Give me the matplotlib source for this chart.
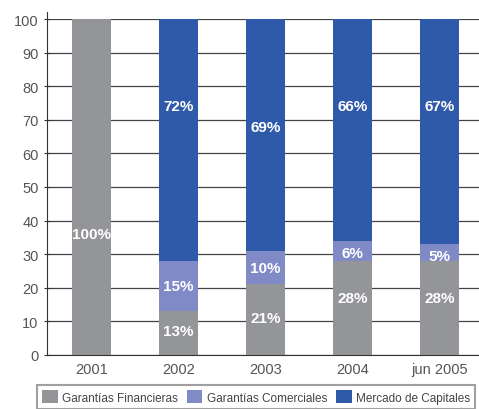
import matplotlib.pyplot as plt
import numpy as np

plt.rcParams.update({"font.family": ["Liberation Sans", "DejaVu Sans"]})

# data
years = ["2001", "2002", "2003", "2004", "jun 2005"]
financieras = [100, 13, 21, 28, 28]
comerciales = [0, 15, 10, 6, 5]
capitales = [0, 72, 69, 66, 67]

labels = ["Garantías Financieras", "Garantías Comerciales", "Mercado de Capitales"]
colors = ["#939598", "#7f8ac6", "#2f5aaa"]

# where the percentage labels sit (value units)
label_pos = [
    [36, 7, 11, 17, 17],
    [None, 20.5, 26, 30.5, 29.5],
    [None, 74, 68, 74, 74],
]

fig = plt.figure(figsize=(4.79, 4.10), dpi=100)
ax = fig.add_axes([47 / 479, 54 / 410, 1 - 47 / 479, 336 / 410])

x = np.arange(len(years))
series = [financieras, comerciales, capitales]
bottom = np.zeros(len(years))
for s, c, lab, pos in zip(series, colors, labels, label_pos):
    ax.bar(x, s, 0.45, bottom=bottom, color=c, label=lab, zorder=2)
    for i, v in enumerate(s):
        if v > 0 and pos[i] is not None:
            ax.text(x[i], pos[i], f"{v}%", ha="center", va="center",
                    color="white", fontsize=11, fontweight="bold", zorder=3)
    bottom += s

ax.set_xlim(-0.51, 4.45)
ax.set_ylim(0, 100)
ax.set_yticks(range(0, 101, 10))
ax.set_xticks(x)
ax.set_xticklabels(years)
ax.grid(axis="y", color="#444444", linewidth=0.9, zorder=0)
ax.set_axisbelow(True)
for sp in ["top", "right"]:
    ax.spines[sp].set_visible(False)
ax.spines["left"].set_color("#333333")
ax.spines["bottom"].set_color("#333333")
ax.spines["left"].set_bounds(0, 102)
ax.tick_params(axis="y", colors="#333333", labelcolor="#555555", labelsize=10.5, length=5, direction="inout")
ax.tick_params(axis="x", length=0, labelcolor="#555555", labelsize=10.5, pad=5)

leg = fig.legend(loc="upper left", bbox_to_anchor=(37 / 479, 1 - 386 / 410), ncol=3,
                 frameon=True, fancybox=False, fontsize=8.5, handlelength=1.3,
                 handleheight=1.3, columnspacing=0.8, handletextpad=0.35,
                 borderpad=0.45, borderaxespad=0)
leg.get_frame().set_edgecolor("#888888")
leg.get_frame().set_linewidth(1.5)
for t in leg.get_texts():
    t.set_color("#444444")

plt.savefig("out.png", dpi=100)
